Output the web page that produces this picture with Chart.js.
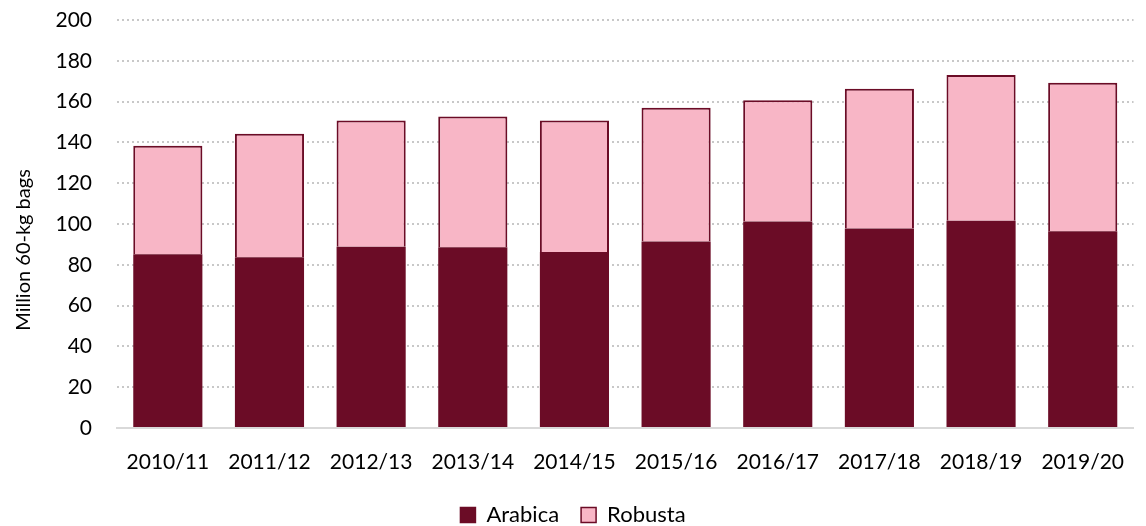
<!DOCTYPE html>
<html>
<head>
<meta charset="utf-8">
<script src="https://cdn.jsdelivr.net/npm/chart.js@4/dist/chart.umd.min.js"></script>
<style>
    html, body { margin: 0; padding: 0; background: #fff; }
    #wrap { width: 1146px; height: 526px; position: relative; }
</style>
</head>
<body>
<div id="wrap"><canvas id="coffeeChart"></canvas></div>
<script>
// Данные: производство кофе, млн мешков по 60 кг
const seasons = ['2010/11', '2011/12', '2012/13', '2013/14', '2014/15',
                 '2015/16', '2016/17', '2017/18', '2018/19', '2019/20'];
const arabica = [85.2, 83.7, 88.8, 88.6, 86.3, 91.4, 101.2, 97.8, 101.6, 96.5];
const robusta = [53.1, 60.6, 61.9, 64.1, 64.4, 65.6, 59.5, 68.5, 71.4, 72.8];
const yTicks = [0, 20, 40, 60, 80, 100, 120, 140, 160, 180, 200];
const yTitle = 'Million 60-kg bags';

const DARK = '#6b0c26';
const PINK = '#f8b6c6';
const FONT = 'Lato, "Noto Sans", sans-serif';

// Подпись оси Y рисуем сами: в оригинале она центрирована по всему холсту
const yTitlePlugin = {
    id: 'yTitle',
    afterDraw(chart) {
        const c = chart.ctx;
        c.save();
        c.translate(24, 250);
        c.rotate(-Math.PI / 2);
        c.font = '20px ' + FONT;
        c.fillStyle = '#000';
        c.textAlign = 'center';
        c.textBaseline = 'middle';
        c.fillText(yTitle, 0, 0);
        c.restore();
    }
};

const ctx = document.getElementById('coffeeChart').getContext('2d');

new Chart(ctx, {
    type: 'bar',
    data: {
        labels: seasons,
        datasets: [
            {
                label: 'Arabica',
                data: arabica,
                backgroundColor: DARK,
                borderColor: DARK,
                borderWidth: 0
            },
            {
                label: 'Robusta',
                data: robusta,
                backgroundColor: PINK,
                borderColor: DARK,
                borderWidth: { top: 2, left: 2, right: 2, bottom: 0 },
                borderSkipped: false
            }
        ]
    },
    plugins: [yTitlePlugin],
    options: {
        responsive: true,
        maintainAspectRatio: false,
        animation: false,
        datasets: {
            bar: { barPercentage: 0.68, categoryPercentage: 1.0 }
        },
        layout: { padding: { top: 20, right: 0, left: 0, bottom: -10 } },
        plugins: {
            tooltip: { enabled: false },
            legend: {
                position: 'bottom',
                labels: {
                    color: '#000',
                    font: { family: FONT, size: 22 },
                    boxWidth: 15,
                    boxHeight: 15,
                    padding: 22,
                    generateLabels: function(chart) {
                        return chart.data.datasets.map((ds, i) => ({
                            text: ds.label,
                            fillStyle: ds.backgroundColor,
                            strokeStyle: DARK,
                            lineWidth: 1.5,
                            fontColor: '#000',
                            datasetIndex: i
                        }));
                    }
                }
            }
        },
        scales: {
            x: {
                stacked: true,
                grid: { display: false, drawTicks: false },
                border: { display: true, color: '#d9d9d9', width: 2 },
                ticks: {
                    color: '#000',
                    font: { family: FONT, size: 21 },
                    padding: 22,
                    maxRotation: 0
                },
                afterFit: function(scale) { scale.height = 54; }
            },
            y: {
                stacked: true,
                min: 0,
                max: 200,
                afterBuildTicks: function(scale) {
                    scale.ticks = yTicks.map(v => ({ value: v }));
                },
                grid: {
                    color: '#c8c8c8',
                    lineWidth: 2,
                    drawTicks: true,
                    tickLength: 25,
                    tickColor: 'rgba(0,0,0,0)'
                },
                border: { display: false, dash: [2, 3] },
                ticks: {
                    color: '#000',
                    font: { family: FONT, size: 21 },
                    padding: 0
                },
                afterFit: function(scale) { scale.width = 117; }
            }
        }
    }
});
</script>
</body>
</html>
